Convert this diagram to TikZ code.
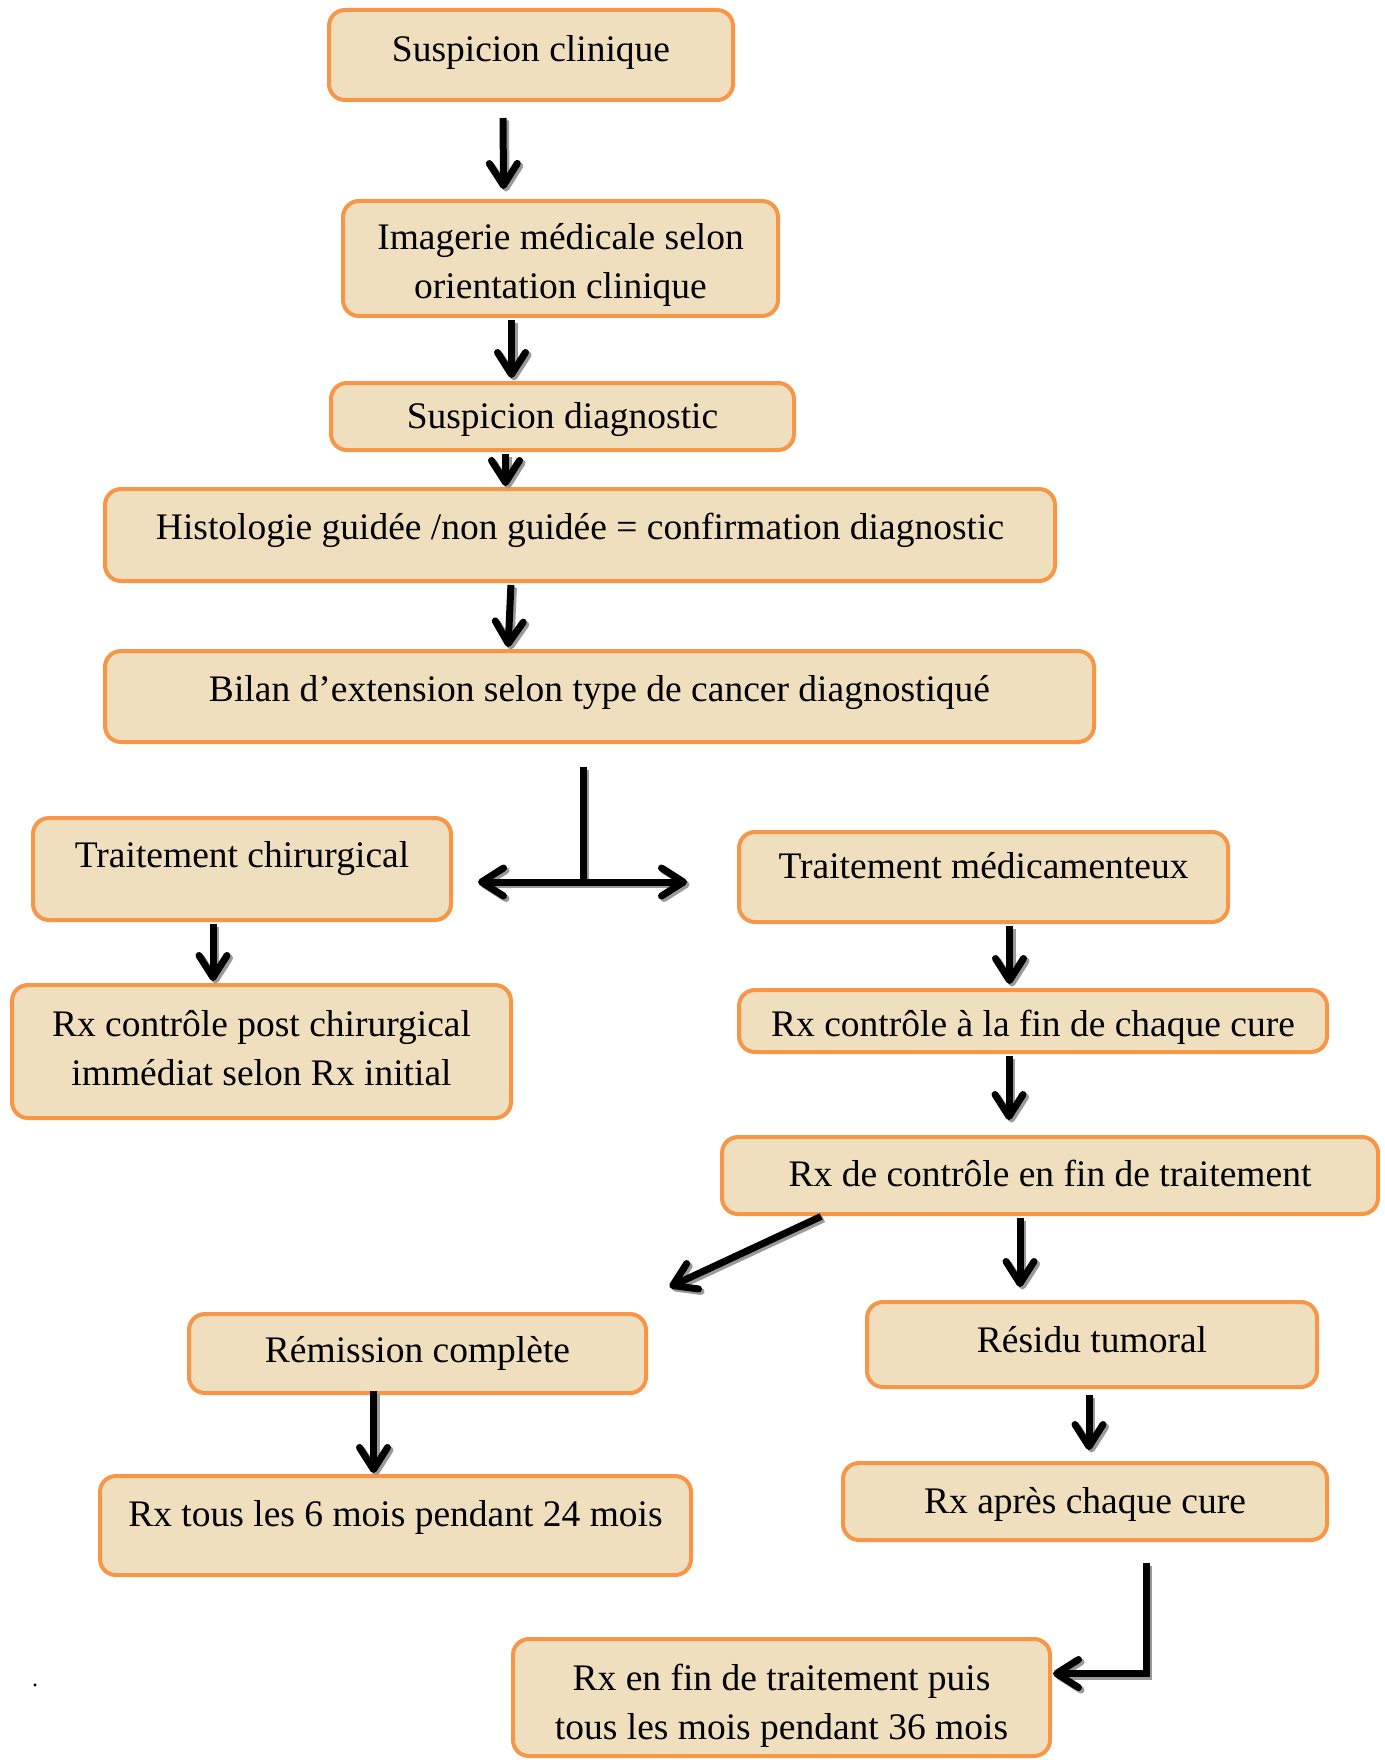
\documentclass[tikz,border=0pt]{standalone}
\usepackage{fontspec}
\setmainfont{Liberation Serif}
\usetikzlibrary{arrows.meta}
\definecolor{parch}{RGB}{239,223,190}
\definecolor{orng}{RGB}{247,150,70}
\newcommand\rtx[2]{\raisebox{#1}[\height][\depth]{#2}}
\newcommand\sarr[2]{\draw[#1, draw=black!40, transform canvas={shift={(2.5pt,-2.5pt)}}] #2; \draw[#1] #2;}
\begin{document}
\begin{tikzpicture}[x=1pt,y=-1pt,
  box/.style={draw=orng, line width=4pt, fill=parch, rounded corners=16pt, inner sep=0pt, align=center,
    font=\fontsize{37.5}{49}\selectfont},
  arr/.style={line width=7pt, -{Straight Barb[length=22pt,width=28pt,line cap=round,round]}},
  ln/.style={line width=7pt}
]
\useasboundingbox (0,0) rectangle (1384,1760);
\node[box, minimum width=404, minimum height=90] (n1) at (531,55) {\rtx{3pt}{Suspicion clinique}};
\node[box, minimum width=435, minimum height=115] (n2) at (560.5,258.5) {\rtx{-6pt}{Imagerie médicale selon}\\\rtx{-6pt}{orientation clinique}};
\node[box, minimum width=463, minimum height=67] (n3) at (562.5,416.5) {\rtx{-3pt}{Suspicion diagnostic}};
\node[box, minimum width=950, minimum height=92] (n4) at (580,535) {\rtx{5pt}{Histologie guidée /non guidée = confirmation diagnostic}};
\node[box, minimum width=989, minimum height=91] (n5) at (599.5,696.5) {\rtx{4pt}{Bilan d’extension selon type de cancer diagnostiqué}};
\node[box, minimum width=418, minimum height=102] (n6) at (242,869) {\rtx{10pt}{Traitement chirurgical}};
\node[box, minimum width=489, minimum height=90] (n7) at (983.5,877) {\rtx{11pt}{Traitement médicamenteux}};
\node[box, minimum width=499, minimum height=133] (n8) at (261.5,1051.5) {\rtx{3pt}{Rx contrôle post chirurgical}\\\rtx{3pt}{immédiat selon Rx initial}};
\node[box, minimum width=588, minimum height=62] (n9) at (1033,1021) {\rtx{-6pt}{Rx contrôle à la fin de chaque cure}};
\node[box, minimum width=656, minimum height=77] (n10) at (1050,1175.5) {\rtx{2pt}{Rx de contrôle en fin de traitement}};
\node[box, minimum width=457, minimum height=79] (n11) at (417.5,1353.5) {Rémission complète};
\node[box, minimum width=450, minimum height=85] (n12) at (1092,1344.5) {\rtx{5pt}{Résidu tumoral}};
\node[box, minimum width=591, minimum height=99] (n13) at (395.5,1525.5) {\rtx{8pt}{Rx tous les 6 mois pendant 24 mois}};
\node[box, minimum width=484, minimum height=77] (n14) at (1085,1501.5) {\rtx{-3pt}{Rx après chaque cure}};
\node[box, minimum width=537, minimum height=117] (n15) at (781.5,1697.5) {\rtx{-8pt}{Rx en fin de traitement puis}\\\rtx{-8pt}{tous les mois pendant 36 mois}};
\node[font=\fontsize{24}{28}\selectfont, anchor=base, inner sep=0pt] (dot) at (35,1686) {.};
% arrows
\sarr{arr, shorten <=16pt, shorten >=10pt}{([xshift=-28pt]n1.south) -- ([xshift=-57pt]n2.north)}
\sarr{arr, shorten <=2pt, shorten >=3pt}{([xshift=-49pt]n2.south) -- ([xshift=-49pt]n2.south |- n3.north)}
\sarr{arr, shorten <=2pt, shorten >=1pt}{([xshift=-57pt]n3.south) -- ([xshift=-57pt]n3.south |- n4.north)}
\sarr{arr, shorten <=2pt, shorten >=2pt}{([xshift=-69pt]n4.south) -- ([xshift=-72pt]n4.south |- n5.north)}
\coordinate (j) at (583,882);
\sarr{ln}{([xshift=-16.5pt,yshift=-23pt]n5.south) -- (j)}
\sarr{arr, shorten >=25pt}{(j) -- (j -| n6.east)}
\sarr{arr, shorten >=50pt}{(j) -- (j -| n7.west)}
\sarr{arr, shorten <=2pt, shorten >=2pt}{([xshift=-29pt]n6.south) -- ([xshift=-29pt]n6.south |- n8.north)}
\sarr{arr, shorten <=2pt, shorten >=4pt}{([xshift=26pt]n7.south) -- ([xshift=26pt]n7.south |- n9.north)}
\sarr{arr, shorten <=2pt, shorten >=15pt}{([xshift=-24pt]n9.south) -- ([xshift=-24pt]n9.south |- n10.north)}
\sarr{arr, shorten <=1pt}{([xshift=-228pt]n10.south) -- ([xshift=252pt,yshift=25pt]n11.north)}
\sarr{arr, shorten <=2pt, shorten >=13pt}{([xshift=-30pt]n10.south) -- ([xshift=-30pt]n10.south |- n12.north)}
\sarr{arr, shorten <=-4pt, shorten >=1pt}{([xshift=-44pt]n11.south) -- ([xshift=-44pt]n11.south |- n13.north)}
\sarr{arr, shorten <=6pt, shorten >=11pt}{([xshift=-3pt]n12.south) -- ([xshift=-3pt]n12.south |- n14.north)}
\sarr{arr, shorten >=1pt}{([xshift=61pt,yshift=-21pt]n14.south) |- ([yshift=24pt]n15.east)}
\end{tikzpicture}
\end{document}
